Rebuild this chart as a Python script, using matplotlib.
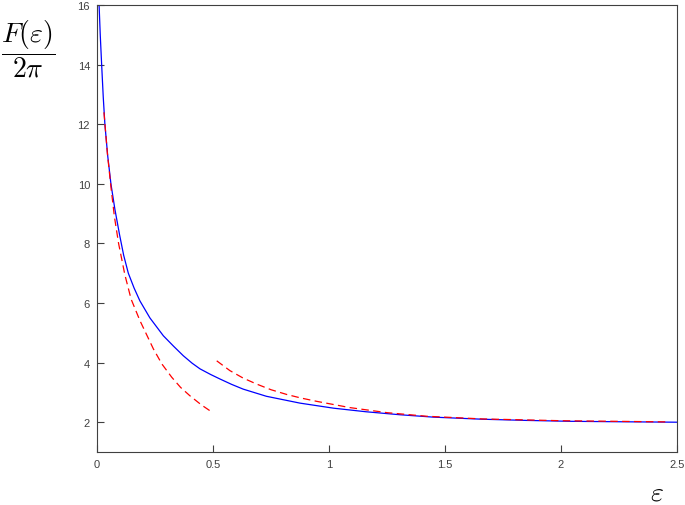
import numpy as np
import matplotlib
matplotlib.use("Agg")
import matplotlib.pyplot as plt

# values
eps_exact = [0.009, 0.014, 0.02, 0.027, 0.034, 0.046, 0.06, 0.077, 0.097, 0.115,
             0.135, 0.16, 0.185, 0.228, 0.286, 0.33, 0.372, 0.41, 0.444, 0.49,
             0.53, 0.58, 0.63, 0.73, 0.875, 1.02, 1.16, 1.306, 1.45, 1.66,
             1.85, 2.04, 2.25, 2.5]
F_exact = [16.0, 15.0, 14.0, 12.9, 12.0, 10.95, 10.0, 9.15, 8.3, 7.6,
           7.0, 6.5, 6.07, 5.5, 4.90, 4.55, 4.23, 3.98, 3.79, 3.6,
           3.45, 3.27, 3.11, 2.87, 2.64, 2.47, 2.35, 2.25, 2.17, 2.10,
           2.06, 2.03, 2.015, 2.0]

# small-eps approximation
eps_small = [0.03, 0.045, 0.06, 0.075, 0.093, 0.12, 0.147, 0.185, 0.243,
             0.28, 0.322, 0.36, 0.40, 0.45, 0.497]
F_small = [12.4, 11.0, 9.9, 8.9, 8.0, 6.95, 6.13, 5.41, 4.46,
           3.95, 3.51, 3.17, 2.89, 2.58, 2.33]

# large-eps approximation
eps_large = [0.516, 0.573, 0.63, 0.688, 0.75, 0.818, 0.88, 0.947, 1.09,
             1.25, 1.42, 1.66, 2.0, 2.46]
F_large = [4.06, 3.73, 3.48, 3.28, 3.09, 2.93, 2.81, 2.70, 2.49,
           2.32, 2.2, 2.11, 2.05, 2.01]

xticks = [0, 0.5, 1, 1.5, 2, 2.5]
xticklabels = ["0", "0.5", "1", "1.5", "2", "2.5"]
yticks = [2, 4, 6, 8, 10, 12, 14, 16]

plt.rcParams['mathtext.fontset'] = 'cm'
plt.rcParams['font.family'] = ['Liberation Sans', 'DejaVu Sans']

fig = plt.figure(figsize=(6.85, 5.06), dpi=100)
ax = fig.add_axes([97/685, 1 - 453/506, 580/685, 447/506])

ax.plot(eps_exact, F_exact, color=(0, 0, 1), lw=0.9)
ax.plot(eps_small, F_small, color=(1, 0, 0), lw=0.9, dashes=(6, 3.5))
ax.plot(eps_large, F_large, color=(1, 0, 0), lw=0.9, dashes=(6, 3.5))

ax.set_xlim(0, 2.5)
ax.set_ylim(1, 16)
ax.set_xticks(xticks)
ax.set_xticklabels(xticklabels)
ax.set_yticks(yticks)
ax.tick_params(direction='in', length=5, width=0.8, labelsize=8,
               labelcolor='#404040', color='#404040', pad=5)
for s in ax.spines.values():
    s.set_color('#404040')
    s.set_linewidth(0.8)

fig.text(28/685, 1 - 49/506, r'$\dfrac{F(\varepsilon)}{2\pi}$', fontsize=20,
         ha='center', va='center')
fig.text(657/685, 1 - 501/506, r'$\varepsilon$', fontsize=20,
         ha='center', va='baseline')

fig.savefig("out.png", dpi=100)
